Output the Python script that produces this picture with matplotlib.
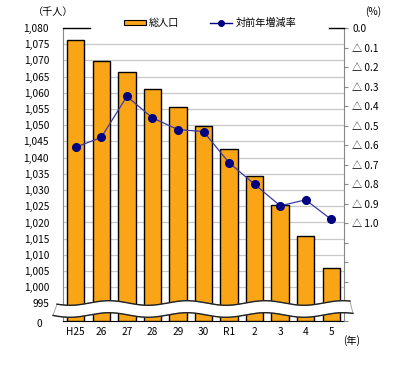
import matplotlib
matplotlib.use("Agg")
import matplotlib.pyplot as plt
import numpy as np
from matplotlib.lines import Line2D
from matplotlib.patches import Patch, Polygon

plt.rcParams['font.family'] = ['Noto Sans CJK JP', 'DejaVu Sans']

years = ["H25", "26", "27", "28", "29", "30", "R1", "2", "3", "4", "5"]
population = [1076.2, 1069.9, 1066.4, 1061.3, 1055.7, 1049.9, 1042.8, 1034.4, 1025.3, 1015.9, 1006.1]
rate_decrease = [0.61, 0.56, 0.35, 0.46, 0.52, 0.53, 0.69, 0.80, 0.91, 0.88, 0.98]
left_ticks = list(range(995, 1081, 5))
right_ticks = [round(0.1 * i, 1) for i in range(16)]

W, H = 404, 369
fig = plt.figure(figsize=(W / 100, H / 100), dpi=100)
L, R, T, B = 63, 344, 28, 321
ax = fig.add_axes([L / W, 1 - B / H, (R - L) / W, (B - T) / H])

ymin = 989.6
x = np.arange(len(years))
ax.bar(x, [p - ymin for p in population], bottom=ymin, width=0.68,
       color='#F9A515', edgecolor='black', linewidth=1.0, zorder=3)
ax.set_xlim(-0.5, len(years) - 0.5)
ax.set_ylim(ymin, 1080)
for v in range(1000, 1080, 5):
    ax.axhline(v, color='#c8c8c8', linewidth=0.9, zorder=1)

ax.set_yticks(left_ticks)
ax.set_yticklabels([f"{v:,}" for v in left_ticks], fontsize=7.3)
ax.tick_params(axis='y', length=0, pad=10)
ax.set_xticks(x)
ax.set_xticklabels(years, fontsize=7.3)
ax.tick_params(axis='x', length=0, pad=4)
for s in ['top', 'right']:
    ax.spines[s].set_visible(False)
ax.spines['left'].set_color('#888888')
ax.spines['bottom'].set_color('black')
fig.text(39 / W, 1 - 324 / H, "0", ha='center', va='center', fontsize=7.3)

ax2 = ax.twinx()
ax2.set_ylim(1.5, 0)
ax2.plot(x, rate_decrease, color='#3b3ba8', linewidth=0.9, marker='o',
         markersize=5.5, markerfacecolor='#000080', markeredgecolor='#000080', zorder=4)
ax2.set_yticks(right_ticks)
labels = []
for v in right_ticks:
    if v == 0:
        labels.append("0.0")
    elif v <= 1.0:
        labels.append(f"△ {v:.1f}")
    else:
        labels.append("")
ax2.set_yticklabels(labels, fontsize=7.3)
ax2.tick_params(axis='y', length=3, color='#888888', pad=3)
for s in ['top', 'left', 'bottom']:
    ax2.spines[s].set_visible(False)
ax2.spines['right'].set_color('#888888')

# short top lines
fig.add_artist(Line2D([L / W, 90 / W], [1 - T / H] * 2, color='black', linewidth=1.0))
fig.add_artist(Line2D([329 / W, R / W], [1 - T / H] * 2, color='black', linewidth=1.0))

# break band
P = 78.0
xs = np.linspace(57, 350, 300)
up = 303 + 2.3 * np.sin(2 * np.pi * (xs - 70) / P + np.pi / 2)
xs2 = np.linspace(53, 353, 300)
lo = 315 + 2.3 * np.sin(2 * np.pi * (xs2 - 70) / P + np.pi / 2)
pts = [(a / W, 1 - b / H) for a, b in zip(xs, up)] + [(a / W, 1 - b / H) for a, b in zip(xs2[::-1], lo[::-1])]
fig.add_artist(Polygon(pts, closed=True, facecolor='white', edgecolor='#999999',
                       linewidth=0.6, transform=fig.transFigure, zorder=5))
fig.add_artist(Line2D(xs / W, 1 - up / H, color='#222222', linewidth=1.0, zorder=6))
fig.add_artist(Line2D(xs2 / W, 1 - lo / H, color='#222222', linewidth=1.0, zorder=6))

# legend
handles = [Patch(facecolor='#F9A515', edgecolor='black', linewidth=0.8),
           Line2D([], [], color='#000080', linewidth=1.0, marker='o', markersize=4)]
fig.legend(handles, ["総人口", "対前年増減率"], ncol=2, frameon=False,
           loc='center', bbox_to_anchor=(210 / W, 1 - 23 / H), fontsize=7.3,
           handlelength=2.2, handleheight=0.5, columnspacing=3.0, handletextpad=0.3)

fig.text(53 / W, 1 - 12 / H, "（千人）", ha='center', va='center', fontsize=7.3)
fig.text(373 / W, 1 - 12 / H, "(%)", ha='center', va='center', fontsize=7.3)
fig.text(352 / W, 1 - 341 / H, "(年)", ha='center', va='center', fontsize=7.3)

fig.savefig("out.png", dpi=100)
